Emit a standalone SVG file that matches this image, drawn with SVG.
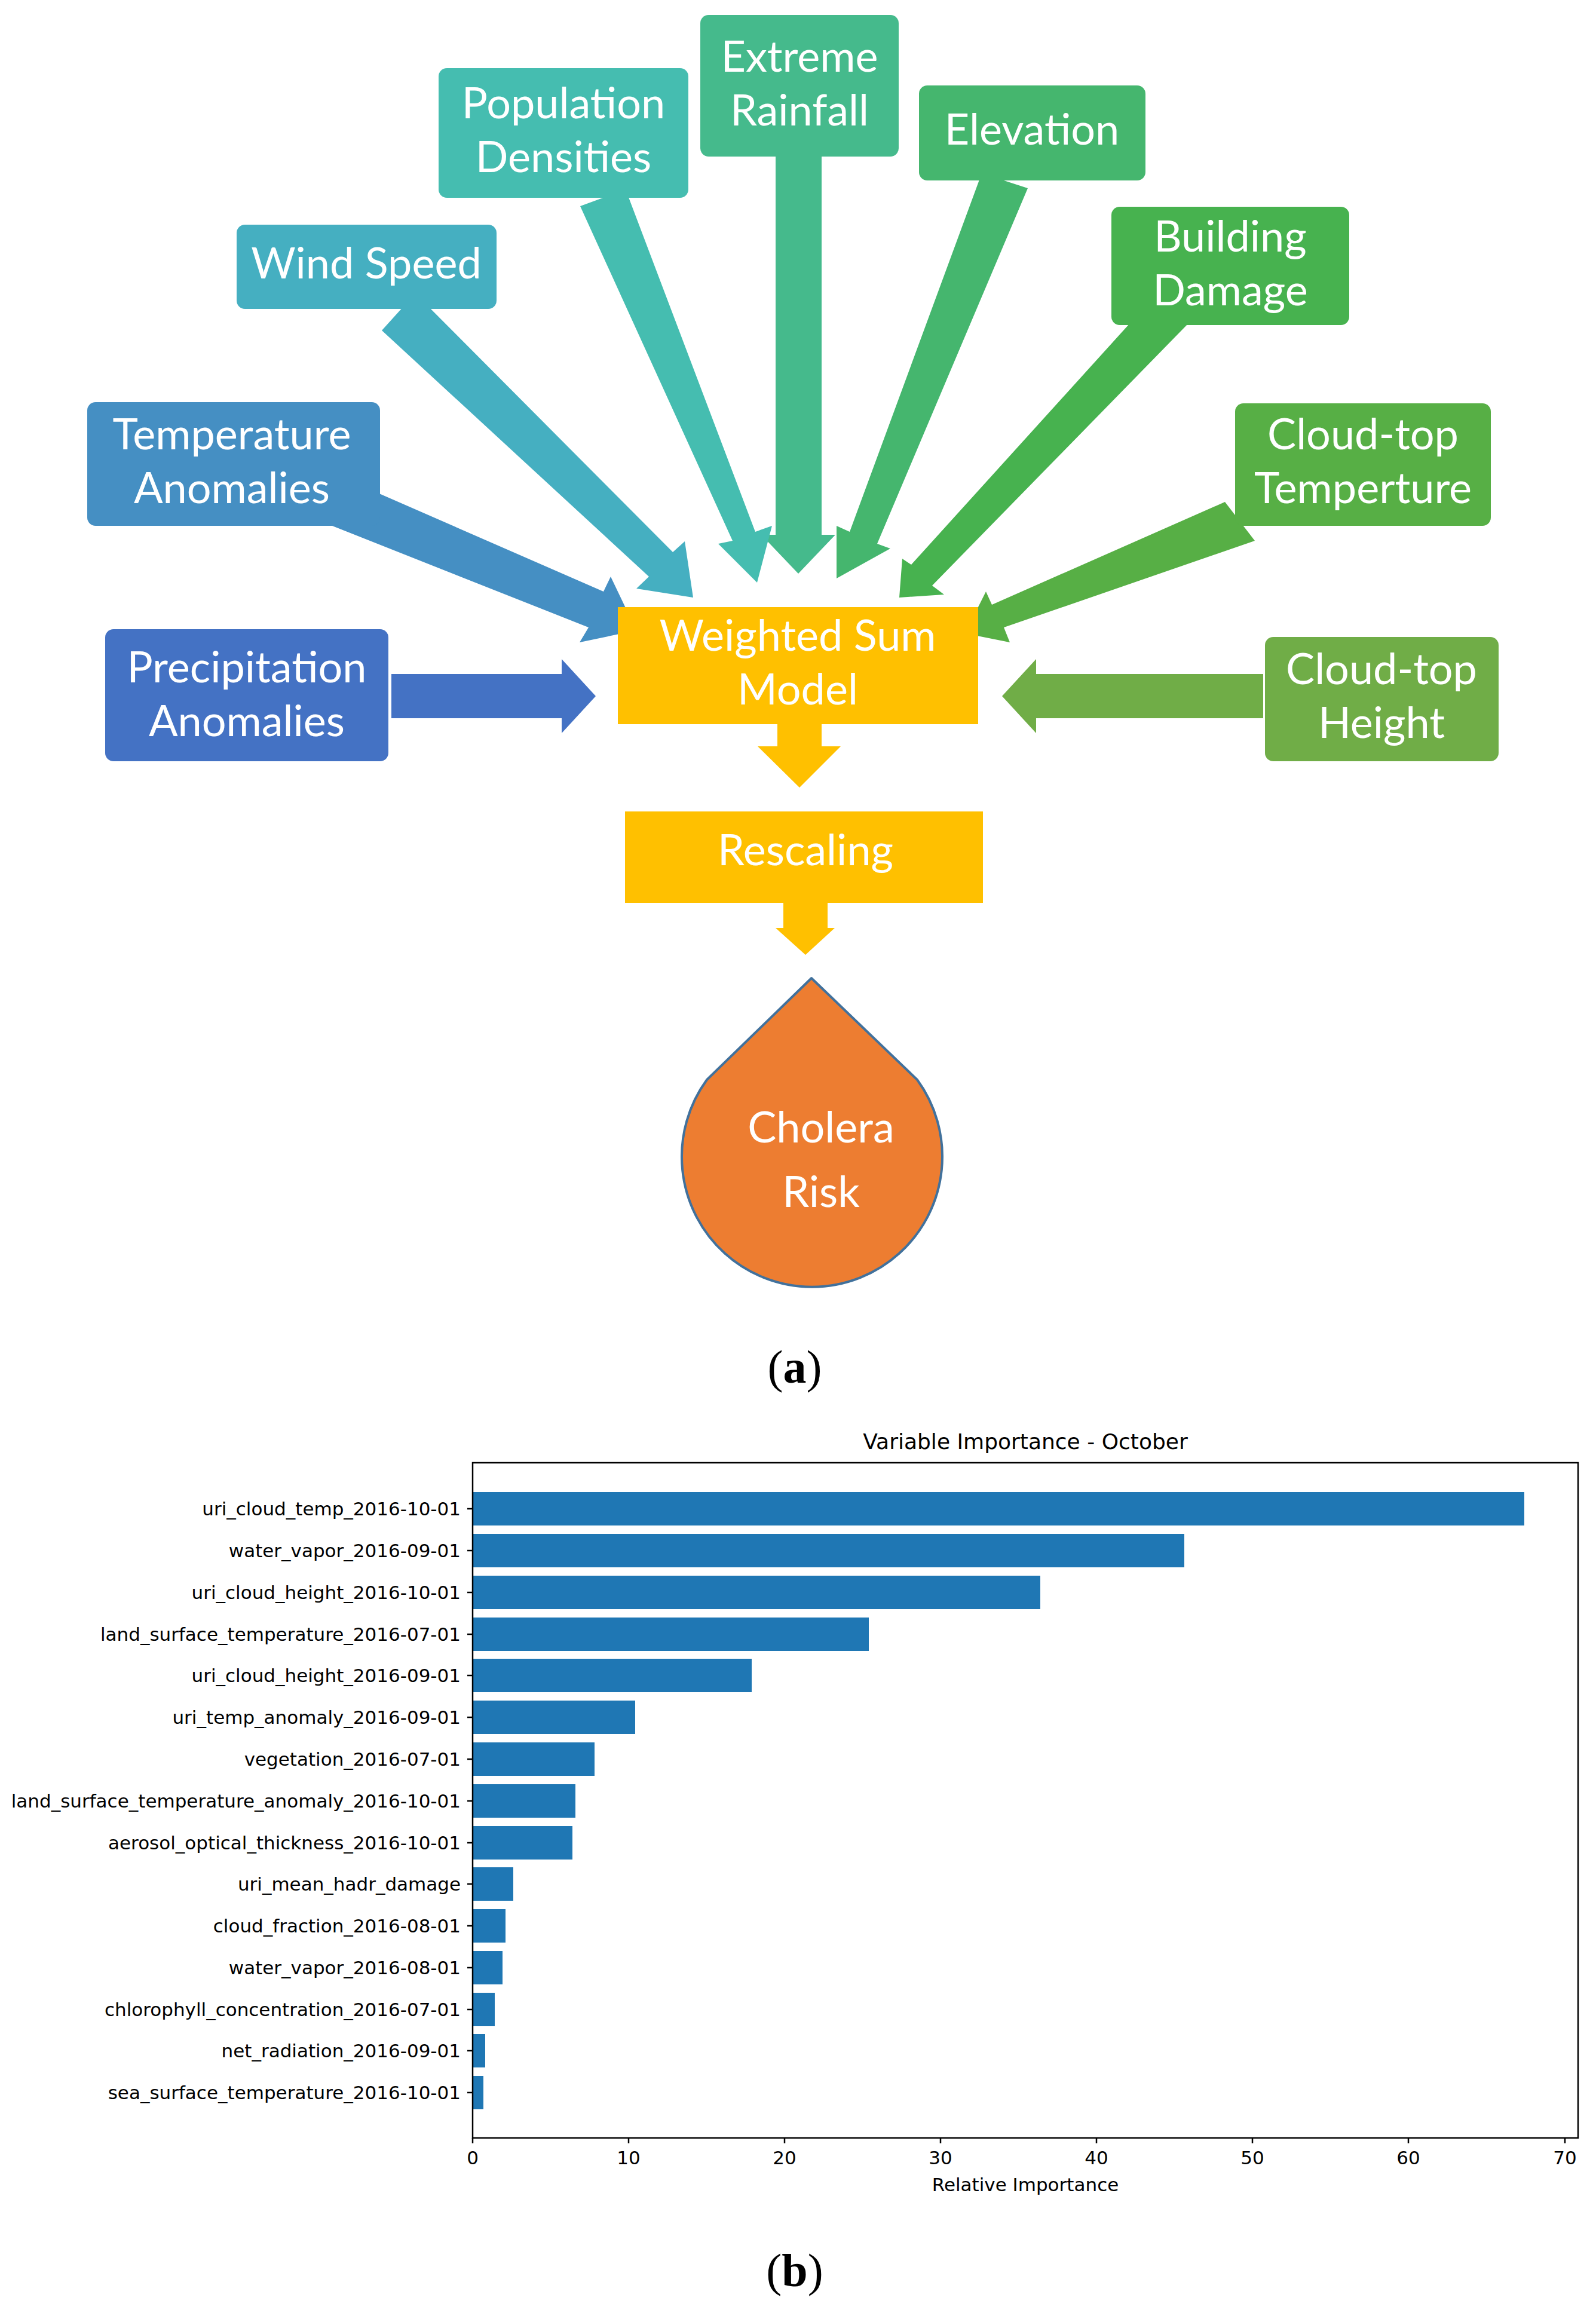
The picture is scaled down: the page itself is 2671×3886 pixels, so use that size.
<svg xmlns="http://www.w3.org/2000/svg" width="2671" height="3886" viewBox="0 0 2671 3886">
<style>
.bt{font-family:Lato,"Open Sans",sans-serif;font-size:72px;fill:#fff;text-anchor:middle}
.lb{font-family:"DejaVu Sans",sans-serif;font-size:31px;fill:#000;text-anchor:end}
.tk{font-family:"DejaVu Sans",sans-serif;font-size:31px;fill:#000;text-anchor:middle}
.cap{font-family:"Liberation Serif",serif;font-size:78px;text-anchor:middle}
.bar{fill:#1f77b4}
</style>
<rect width="2671" height="3886" fill="#fff"/>
<g id="connectors">
<polygon fill="#4472C4" points="655,1128 940,1128 940,1103 997,1165 940,1227 940,1202 655,1202"/>
<polygon fill="#70AD47" points="2114,1128 1734,1128 1734,1103 1677,1165 1734,1227 1734,1202 2114,1202"/>
<polygon fill="#45BA8C" points="1298,262 1375,262 1375,895 1398,895 1336,960 1274,895 1298,895"/>
<g id="arrs"/>
<polygon fill="#45BDB0" points="971,345 1047,317 1264,890 1292,880 1267,975 1202,910 1226,905"/>
<polygon fill="#45AFC1" points="639,553 695,491 1126,924 1146,906 1160,1000 1065,985 1086,965"/>
<polygon fill="#458FC3" points="556,880 598,810 1010,990 1022,965 1065,1055 970,1075 985,1050"/>
<polygon fill="#45B66E" points="1643,290 1720,315 1468,910 1490,918 1400,968 1400,880 1422,890"/>
<polygon fill="#47B24F" points="1910,520 1990,540 1560,980 1580,995 1505,1000 1510,935 1525,945"/>
<polygon fill="#57AF45" points="2050,840 2100,905 1680,1050 1690,1075 1615,1060 1650,990 1660,1012"/>
<polygon fill="#FFC000" points="1301,1212 1375,1212 1375,1249 1407,1249 1338,1318 1268,1249 1301,1249"/>
<polygon fill="#FFC000" points="1311,1511 1385,1511 1385,1553 1397,1553 1348,1598 1298,1553 1311,1553"/>
</g>
<g id="n-extreme"><rect x="1172" y="25" width="332" height="237" rx="14" fill="#45BA8C"/><text class="bt" x="1338" y="120">Extreme</text><text class="bt" x="1338" y="210">Rainfall</text></g>
<g id="n-pop"><rect x="734" y="114" width="418" height="217" rx="14" fill="#45BDB0"/><text class="bt" x="943" y="198">Population</text><text class="bt" x="943" y="288">Densities</text></g>
<g id="n-elev"><rect x="1538" y="143" width="379" height="159" rx="14" fill="#45B66E"/><text class="bt" x="1727" y="242">Elevation</text></g>
<g id="n-wind"><rect x="396" y="376" width="435" height="141" rx="14" fill="#45AFC1"/><text class="bt" x="613" y="466">Wind Speed</text></g>
<g id="n-build"><rect x="1860" y="346" width="398" height="198" rx="14" fill="#47B24F"/><text class="bt" x="2059" y="421">Building</text><text class="bt" x="2059" y="511">Damage</text></g>
<g id="n-temp"><rect x="146" y="673" width="490" height="207" rx="14" fill="#458FC3"/><text class="bt" x="388" y="752">Temperature</text><text class="bt" x="388" y="842">Anomalies</text></g>
<g id="n-ctt"><rect x="2067" y="675" width="428" height="205" rx="14" fill="#57AF45"/><text class="bt" x="2281" y="752">Cloud-top</text><text class="bt" x="2281" y="842">Temperture</text></g>
<g id="n-precip"><rect x="176" y="1053" width="474" height="221" rx="14" fill="#4472C4"/><text class="bt" x="413" y="1142">Precipitation</text><text class="bt" x="413" y="1232">Anomalies</text></g>
<g id="n-cth"><rect x="2117" y="1066" width="391" height="208" rx="14" fill="#70AD47"/><text class="bt" x="2312" y="1145">Cloud-top</text><text class="bt" x="2312" y="1235">Height</text></g>
<g id="n-wsm"><rect x="1034" y="1016" width="603" height="196" fill="#FFC000"/><text class="bt" x="1335" y="1089">Weighted Sum</text><text class="bt" x="1335" y="1179">Model</text></g>
<g id="n-resc"><rect x="1046" y="1358" width="599" height="153" fill="#FFC000"/><text class="bt" x="1348" y="1448">Rescaling</text></g>
<g id="n-risk"><path d="M1358,1637 L1535,1807 A218,218 0 1 1 1183,1807 Z" fill="#ED7D31" stroke="#41719C" stroke-width="4" stroke-linejoin="round"/><text class="bt" x="1374" y="1912">Cholera</text><text class="bt" x="1374" y="2020">Risk</text></g>
<text class="cap" x="1330" y="2314">(<tspan font-weight="bold">a</tspan>)</text>
<g id="chart">
<text x="1716" y="2425" font-family="DejaVu Sans,sans-serif" font-size="36" text-anchor="middle">Variable Importance - October</text>
<rect class="bar" x="791" y="2497" width="1760" height="56"/>
<rect class="bar" x="791" y="2567" width="1191" height="56"/>
<rect class="bar" x="791" y="2637" width="950" height="56"/>
<rect class="bar" x="791" y="2707" width="663" height="56"/>
<rect class="bar" x="791" y="2776" width="467" height="56"/>
<rect class="bar" x="791" y="2846" width="272" height="56"/>
<rect class="bar" x="791" y="2916" width="204" height="56"/>
<rect class="bar" x="791" y="2986" width="172" height="56"/>
<rect class="bar" x="791" y="3056" width="167" height="56"/>
<rect class="bar" x="791" y="3125" width="68" height="56"/>
<rect class="bar" x="791" y="3195" width="55" height="56"/>
<rect class="bar" x="791" y="3265" width="50" height="56"/>
<rect class="bar" x="791" y="3335" width="37" height="56"/>
<rect class="bar" x="791" y="3404" width="21" height="56"/>
<rect class="bar" x="791" y="3474" width="18" height="56"/>
<rect x="791" y="2448" width="1850" height="1130" fill="none" stroke="#000" stroke-width="2.5"/>
<g stroke="#000" stroke-width="2.5">
<path d="M782,2525h9M782,2595h9M782,2665h9M782,2735h9M782,2804h9M782,2874h9M782,2944h9M782,3014h9M782,3084h9M782,3153h9M782,3223h9M782,3293h9M782,3363h9M782,3432h9M782,3502h9"/>
<path d="M791,3578v9M1052,3578v9M1313,3578v9M1574,3578v9M1835,3578v9M2096,3578v9M2357,3578v9M2619,3578v9"/>
</g>
<text class="lb" x="771" y="2536">uri_cloud_temp_2016-10-01</text>
<text class="lb" x="771" y="2606">water_vapor_2016-09-01</text>
<text class="lb" x="771" y="2676">uri_cloud_height_2016-10-01</text>
<text class="lb" x="771" y="2746">land_surface_temperature_2016-07-01</text>
<text class="lb" x="771" y="2815">uri_cloud_height_2016-09-01</text>
<text class="lb" x="771" y="2885">uri_temp_anomaly_2016-09-01</text>
<text class="lb" x="771" y="2955">vegetation_2016-07-01</text>
<text class="lb" x="771" y="3025">land_surface_temperature_anomaly_2016-10-01</text>
<text class="lb" x="771" y="3095">aerosol_optical_thickness_2016-10-01</text>
<text class="lb" x="771" y="3164">uri_mean_hadr_damage</text>
<text class="lb" x="771" y="3234">cloud_fraction_2016-08-01</text>
<text class="lb" x="771" y="3304">water_vapor_2016-08-01</text>
<text class="lb" x="771" y="3374">chlorophyll_concentration_2016-07-01</text>
<text class="lb" x="771" y="3443">net_radiation_2016-09-01</text>
<text class="lb" x="771" y="3513">sea_surface_temperature_2016-10-01</text>
<text class="tk" x="791" y="3622">0</text><text class="tk" x="1052" y="3622">10</text><text class="tk" x="1313" y="3622">20</text><text class="tk" x="1574" y="3622">30</text><text class="tk" x="1835" y="3622">40</text><text class="tk" x="2096" y="3622">50</text><text class="tk" x="2357" y="3622">60</text><text class="tk" x="2619" y="3622">70</text>
<text class="tk" x="1716" y="3667">Relative Importance</text>
</g>
<text class="cap" x="1330" y="3826">(<tspan font-weight="bold">b</tspan>)</text>
</svg>
